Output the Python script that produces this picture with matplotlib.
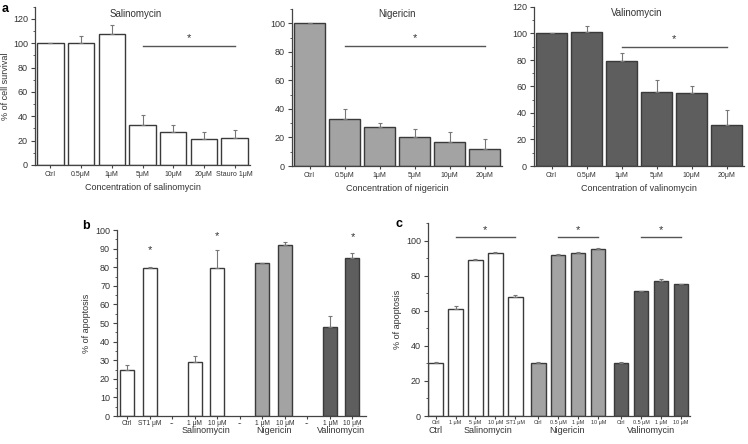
import numpy as np
import matplotlib
matplotlib.use('Agg')
import matplotlib.pyplot as plt
import matplotlib.transforms as mtrans
from matplotlib.ticker import MultipleLocator

plt.rcParams['font.family'] = ['Liberation Sans', 'DejaVu Sans']

# ---- data ----
# panel a
sal_labels = ['Ctrl', '0.5\u03bcM', '1\u03bcM', '5\u03bcM', '10\u03bcM', '20\u03bcM', 'Stauro 1\u03bcM']
sal_surv = [100, 100, 108, 33, 27, 21, 22]
sal_err = [0, 6, 7, 8, 6, 6, 7]

nig_labels = ['Ctrl', '0.5\u03bcM', '1\u03bcM', '5\u03bcM', '10\u03bcM', '20\u03bcM']
nig_surv = [100, 33, 27, 20, 17, 12]
nig_err = [0, 7, 3, 6, 7, 7]

val_labels = ['Ctrl', '0.5\u03bcM', '1\u03bcM', '5\u03bcM', '10\u03bcM', '20\u03bcM']
val_surv = [100, 101, 79, 56, 55, 31]
val_err = [0, 5, 6, 9, 5, 11]

# panel b
b_labels = ['Ctrl', 'ST1 \u03bcM', '--', '1 \u03bcM', '10 \u03bcM', '--',
            '1 \u03bcM', '10 \u03bcM', '--', '1 \u03bcM', '10 \u03bcM']
b_vals = [25, 79.5, None, 29, 79.5, None, 82, 92, None, 48, 85]
b_err = [2.5, 0.5, None, 3, 9.5, None, 0.5, 1.5, None, 6, 2.5]
b_kind = ['w', 'w', None, 'w', 'w', None, 'l', 'l', None, 'd', 'd']
b_groups = ['Salinomycin', 'Nigericin', 'Valinomycin']

# panel c
c_labels = ['Ctrl', '1 \u03bcM', '5 \u03bcM', '10 \u03bcM', 'ST1 \u03bcM',
            'Ctrl', '0.5 \u03bcM', '1 \u03bcM', '10 \u03bcM',
            'Ctrl', '0.5 \u03bcM', '1 \u03bcM', '10 \u03bcM']
c_vals = [30, 61, 89, 93, 68, 30, 92, 93, 95, 30, 71, 77, 75]
c_err = [0.6, 1.5, 0.3, 0.4, 0.8, 0.6, 0.4, 0.5, 0.5, 0.6, 0.5, 0.8, 0.5]
c_kind = ['w'] * 5 + ['l'] * 4 + ['d'] * 4
c_groups = ['Ctrl', 'Salinomycin', 'Nigericin', 'Valinomycin']

colors = {'w': 'white', 'l': '#a3a3a3', 'd': '#5e5e5e'}
edge = '#3a3a3a'
txt = '#333333'

W, H = 748, 444
fig = plt.figure(figsize=(W / 100, H / 100), dpi=100)


def box(l, t, r, b):
    return [l / W, 1 - b / H, (r - l) / W, (b - t) / H]


def style(ax, ymax, major, minor):
    for s in ['top', 'right']:
        ax.spines[s].set_visible(False)
    for s in ['left', 'bottom']:
        ax.spines[s].set_color('#444444')
        ax.spines[s].set_linewidth(0.9)
    ax.set_ylim(0, ymax)
    ax.yaxis.set_major_locator(MultipleLocator(major))
    ax.yaxis.set_minor_locator(MultipleLocator(minor))
    ax.tick_params(axis='y', which='major', length=3, width=0.8, colors='#444444',
                   labelsize=6.5, labelcolor=txt, pad=2)
    ax.tick_params(axis='y', which='minor', length=1.5, width=0.6, colors='#444444')
    ax.tick_params(axis='x', length=2, width=0.8, colors='#444444',
                   labelsize=5, labelcolor=txt, pad=2)


def panel_a(rect, labels, vals, errs, color, ymax, title, title_xy, xlabel, sig, ylabel=None):
    ax = fig.add_axes(rect)
    x = np.arange(len(vals))
    ax.bar(x, vals, width=0.86, color=color, edgecolor=edge, linewidth=1.0)
    ax.errorbar(x, vals, yerr=[np.zeros(len(errs)), errs], fmt='none',
                ecolor='#777777', elinewidth=0.8, capsize=1.5, capthick=0.8)
    ax.set_xlim(-0.5, len(vals) - 0.5)
    ax.set_xticks(x)
    ax.set_xticklabels(labels)
    style(ax, ymax, 20, 10)
    ax.text(title_xy[0], title_xy[1], title, transform=ax.transAxes, ha='center',
            va='center', fontsize=7, color=txt)
    ax.set_xlabel(xlabel, fontsize=6.5, color=txt, labelpad=4)
    if ylabel:
        ax.set_ylabel(ylabel, fontsize=6.5, color=txt, labelpad=2)
    x0, x1, yl, ys = sig
    ax.plot([x0, x1], [yl, yl], color='#555555', lw=1.0)
    ax.text((x0 + x1) / 2, ys, '*', ha='center', va='center', fontsize=8, color=txt)
    return ax


# ---- panel a ----
panel_a(box(35, 6.8, 250, 165), sal_labels, sal_surv, sal_err, 'white', 130,
        'Salinomycin', (0.47, 0.955), 'Concentration of salinomycin',
        (3, 6, 97.5, 104), ylabel='% of cell survival')
panel_a(box(292, 9, 502, 166), nig_labels, nig_surv, nig_err, colors['l'], 110,
        'Nigericin', (0.5, 0.965), 'Concentration of nigericin', (1, 5, 84, 89.5))
panel_a(box(534, 7, 744, 166), val_labels, val_surv, val_err, colors['d'], 120,
        'Valinomycin', (0.49, 0.96), 'Concentration of valinomycin', (2, 5, 90, 96))

# ---- panel b ----
axb = fig.add_axes(box(117, 230, 366, 416))
xb = np.arange(len(b_labels))
for xi, v, e, k in zip(xb, b_vals, b_err, b_kind):
    if v is None:
        continue
    axb.bar(xi, v, width=0.62, color=colors[k], edgecolor=edge, linewidth=1.0)
    axb.errorbar(xi, v, yerr=[[0], [e]], fmt='none', ecolor='#777777',
                 elinewidth=0.8, capsize=1.5, capthick=0.8)
axb.set_xlim(-0.45, len(b_labels) - 0.4)
axb.set_xticks(xb)
axb.set_xticklabels(b_labels)
style(axb, 100, 10, 5)
axb.tick_params(axis='x', labelsize=4.8, pad=1)
axb.set_ylabel('% of apoptosis', fontsize=6.5, color=txt, labelpad=3)
trb = mtrans.blended_transform_factory(axb.transData, axb.transAxes)
for gx, g in zip([3.5, 6.5, 9.5], b_groups):
    axb.text(gx, -0.08, g, transform=trb, ha='center', va='center', fontsize=6.5, color=txt)
for sx, sy in [(1, 89), (4, 97), (10, 96)]:
    axb.text(sx, sy, '*', ha='center', va='center', fontsize=8, color=txt)

# ---- panel c ----
axc = fig.add_axes(box(428, 223, 690, 416))
gap = 0.15
xc = np.array([0, 1, 2, 3, 4, 5 + gap, 6 + gap, 7 + gap, 8 + gap,
               9 + 2 * gap, 10 + 2 * gap, 11 + 2 * gap, 12 + 2 * gap])
axc.bar(xc, c_vals, width=0.72, color=[colors[k] for k in c_kind],
        edgecolor=edge, linewidth=1.0)
axc.errorbar(xc, c_vals, yerr=[np.zeros(len(c_err)), c_err], fmt='none',
             ecolor='#777777', elinewidth=0.8, capsize=1.3, capthick=0.8)
axc.set_xlim(-0.38, xc[-1] + 0.45)
axc.set_xticks(xc)
axc.set_xticklabels(c_labels)
style(axc, 110, 20, 10)
axc.tick_params(axis='x', labelsize=3.9, pad=1)
axc.set_ylabel('% of apoptosis', fontsize=6.5, color=txt, labelpad=3)
trc = mtrans.blended_transform_factory(axc.transData, axc.transAxes)
for gx, g in zip([0, 2.6, 6.6, 10.8], c_groups):
    axc.text(gx, -0.075, g, transform=trc, ha='center', va='center', fontsize=6.5, color=txt)
for i0, i1 in [(1, 4), (6, 8), (10, 12)]:
    axc.plot([xc[i0], xc[i1]], [102, 102], color='#555555', lw=1.0)
    axc.text((xc[i0] + xc[i1]) / 2, 106, '*', ha='center', va='center', fontsize=8, color=txt)

# panel letters
fig.text(2 / W, 1 - 9 / H, 'a', fontsize=9, fontweight='bold', ha='left', va='center')
fig.text(82 / W, 1 - 226 / H, 'b', fontsize=9, fontweight='bold', ha='left', va='center')
fig.text(395 / W, 1 - 224 / H, 'c', fontsize=9, fontweight='bold', ha='left', va='center')

fig.savefig('out.png', dpi=100)
